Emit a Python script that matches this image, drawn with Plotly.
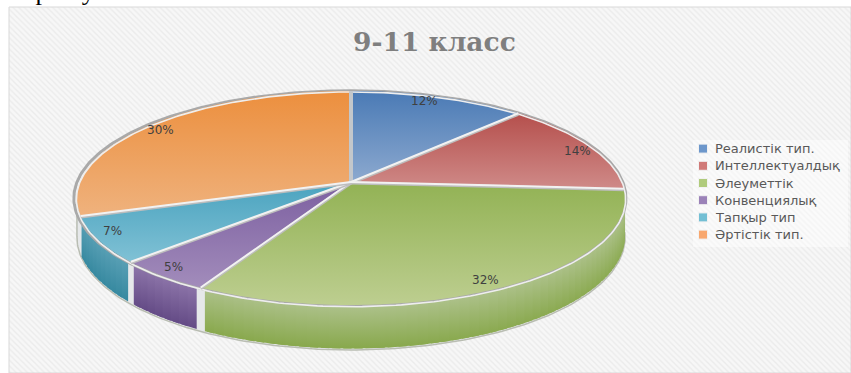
import math
import plotly.graph_objects as go

TITLE = "9-11 класс"
HEADER = "Зерттеу нәтижесі:"
CATEGORIES = ["Реалистік тип.", "Интеллектуалдық", "Әлеуметтік", "Конвенциялық", "Тапқыр тип", "Әртістік тип."]
SHARES = [12, 14, 32, 5, 7, 30]

FACE_TOP = ["#4a7ab5", "#b54f4c", "#92b254", "#7c5fa0", "#4aa3bf", "#ec8f3e"]
FACE_BOT = ["#8ca9cf", "#cf8a88", "#bdce90", "#a28cbb", "#80c1d5", "#efb27d"]
WALL_TOP = ["#6f8fb8", "#c07a78", "#aec28c", "#9078ac", "#5ea3b8", "#efb27d"]
WALL_BOT = ["#3f6a9c", "#9c4542", "#88a84c", "#634a85", "#35889f", "#c9782f"]
SWATCH = ["#6d97cb", "#d07a78", "#b0cb7c", "#9b82b8", "#73bfd4", "#f8a76e"]
LABEL_DT = [-2.4, 1.9, 0.9, 1.0, 2.8, -0.9]

# Projection of the tilted disc
CX, CY, RX, RY, K, DEPTH = 351, 182, 271, 104.6, 0.1495, 37


def project(t_deg, r=1.0):
    t = math.radians(t_deg)
    u, v = r * math.sin(t), r * math.cos(t)
    w = 1 + K * v
    return CX + RX * u / w, CY - RY * v / w


def wall_drop(t_deg):
    return DEPTH / (1 + K * math.cos(math.radians(t_deg)))


def arc(a, b, step=1.0):
    n = max(2, int(abs(b - a) / step) + 1)
    return [a + (b - a) * i / (n - 1) for i in range(n)]


def grad(top, bottom):
    # The y axis is reversed, so the gradient's low end is at the visual bottom.
    return dict(type="vertical", colorscale=[[0, bottom], [1, top]])


fig = go.Figure()

# Panel
fig.add_trace(go.Scatter(
    x=[9, 851, 851, 9, 9], y=[7, 7, 373, 373, 7], mode="lines", fill="toself",
    line=dict(color="#d9d9d9", width=1),
    fillpattern=dict(shape="\\", size=4, solidity=0.35, fgcolor="#e0e0e0", bgcolor="#f7f7f7"),
    hoverinfo="skip", showlegend=False))

# Slice angles
edges = [0]
for s in SHARES:
    edges.append(edges[-1] + s * 3.6)

# Outer silhouette of the wall
sil = arc(96, 262)
top_sil = [project(t) for t in sil]
fig.add_trace(go.Scatter(
    x=[p[0] for p in top_sil] + [p[0] for p in top_sil[::-1]],
    y=[p[1] for p in top_sil] + [p[1] + wall_drop(t) + 1.5 for p, t in zip(top_sil[::-1], sil[::-1])],
    mode="lines", fill="toself", line=dict(color="#b9bdb2", width=1.5),
    fillcolor="#e6e8ea", hoverinfo="skip", showlegend=False))

# Walls: drawn as overlapping strips, each with its own vertical gradient
for i in range(6):
    a, b = edges[i], edges[i + 1]
    a2, b2 = max(a, 97), min(b, 252)
    if b2 <= a2:
        continue
    ts = arc(a2 + 0.9, b2 - 0.9, 2.0)
    for t0, t1 in zip(ts[:-1], ts[1:]):
        t1x = min(t1 + 1.5, b2 - 0.9)
        p = [project(t0), project(t1x)]
        xs = [p[0][0], p[1][0], p[1][0], p[0][0], p[0][0]]
        ys = [p[0][1], p[1][1], p[1][1] + wall_drop(t1x), p[0][1] + wall_drop(t0), p[0][1]]
        fig.add_trace(go.Scatter(
            x=xs, y=ys, mode="none", fill="toself",
            fillgradient=grad(WALL_TOP[i], WALL_BOT[i]),
            hoverinfo="skip", showlegend=False))

# Rim shadow, a little wider on the left
rim = arc(0, 360)
rim_r = [1.003 + 0.008 * max(0, -math.sin(math.radians(t))) for t in rim]
fig.add_trace(go.Scatter(
    x=[project(t, r)[0] for t, r in zip(rim, rim_r)], y=[project(t, r)[1] for t, r in zip(rim, rim_r)],
    mode="lines", line=dict(color="#a9a9a9", width=3), hoverinfo="skip", showlegend=False))

# Top faces
for i in range(6):
    ts = arc(edges[i], edges[i + 1])
    pts = [(CX, CY)] + [project(t) for t in ts] + [(CX, CY)]
    fig.add_trace(go.Scatter(
        x=[p[0] for p in pts], y=[p[1] for p in pts], mode="none", fill="toself",
        fillgradient=grad(FACE_TOP[i], FACE_BOT[i]),
        name=CATEGORIES[i], hoverinfo="skip", showlegend=False))

# Bright rim
fig.add_trace(go.Scatter(
    x=[project(t, 1 - 0.012 * math.cos(math.radians(t)))[0] for t in rim],
    y=[project(t, 1 - 0.012 * math.cos(math.radians(t)))[1] for t in rim],
    mode="lines", line=dict(color="#eeeeee", width=1.6), hoverinfo="skip", showlegend=False))

# Spokes between slices
for i, e in enumerate(edges[:-1]):
    ex, ey = project(e, 1.0)
    if i == 0:
        fig.add_trace(go.Scatter(x=[CX, ex], y=[CY, ey], mode="lines",
                                 line=dict(color="#c3c7cb", width=4), hoverinfo="skip", showlegend=False))
    else:
        fig.add_trace(go.Scatter(x=[CX, ex], y=[CY + 1, ey + 1], mode="lines",
                                 line=dict(color="#bdbdbd", width=3), hoverinfo="skip", showlegend=False))
        fig.add_trace(go.Scatter(x=[CX, ex], y=[CY, ey], mode="lines",
                                 line=dict(color="#f2f2f2", width=2), hoverinfo="skip", showlegend=False))

# Legend backing
fig.add_trace(go.Scatter(
    x=[693, 848, 848, 693, 693], y=[140, 140, 247, 247, 140], mode="none", fill="toself",
    fillcolor="rgba(255,255,255,0.45)", hoverinfo="skip", showlegend=False))

LEG_Y0, LEG_DY = 148.6, 17.2
fig.add_trace(go.Scatter(
    x=[703] * 6, y=[LEG_Y0 + LEG_DY * i for i in range(6)], mode="markers",
    marker=dict(symbol="square", size=9, color=SWATCH, line=dict(color="#f2f2f2", width=1)),
    hoverinfo="skip", showlegend=False))

annotations = [
    dict(x=434, y=41, text=f"<b>{TITLE}</b>", showarrow=False,
         font=dict(family="DejaVu Serif", size=26.5, color="#7f7f7f")),
    dict(x=9, y=8, text=HEADER, showarrow=False, xanchor="left", yanchor="bottom",
         font=dict(family="Liberation Serif", size=26, color="#000000")),
]
for i, cat in enumerate(CATEGORIES):
    annotations.append(dict(x=713, y=LEG_Y0 + LEG_DY * i, text=cat, showarrow=False, xanchor="left",
                            font=dict(family="DejaVu Sans", size=13, color="#595959")))
for i, s in enumerate(SHARES):
    mid = (edges[i] + edges[i + 1]) / 2 + LABEL_DT[i]
    lx, ly = project(mid, 0.93)
    annotations.append(dict(x=lx, y=ly, text=f"{s}%", showarrow=False,
                            font=dict(family="DejaVu Sans", size=12, color="#404040")))

fig.update_layout(
    width=851, height=373, margin=dict(l=0, r=0, t=0, b=0), autosize=False,
    paper_bgcolor="white", plot_bgcolor="white", showlegend=False,
    xaxis=dict(range=[0, 851], visible=False, fixedrange=True),
    yaxis=dict(range=[373, 0], visible=False, fixedrange=True),
    annotations=annotations,
)
fig.write_html("out.html", config=dict(displayModeBar=False),
               post_script="document.body.style.margin='0';document.body.style.overflow='hidden';")
